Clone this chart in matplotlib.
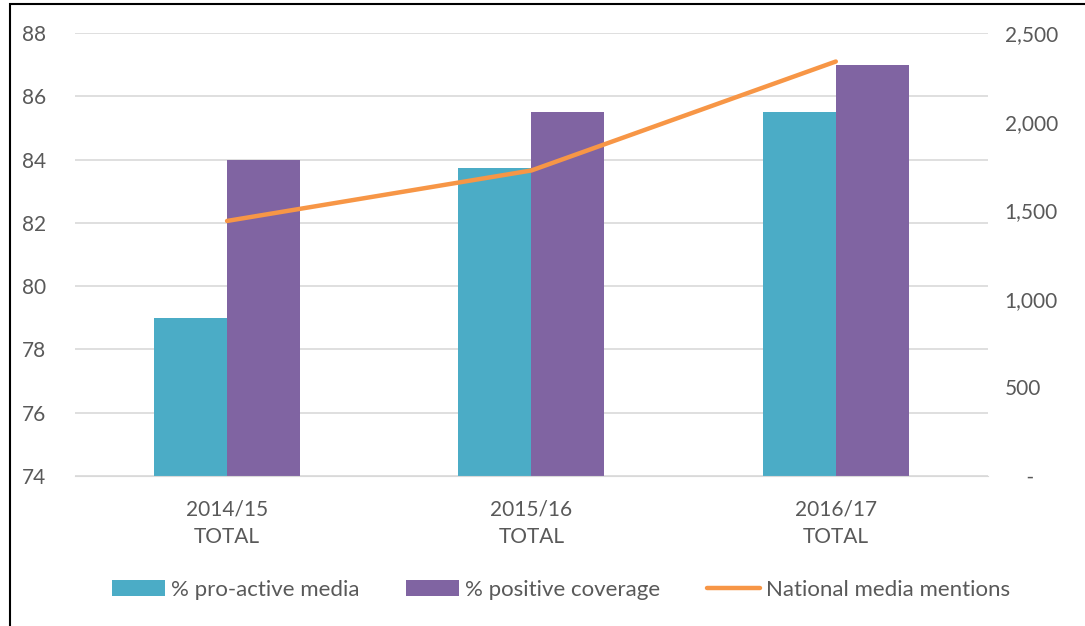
import numpy as np
import matplotlib.pyplot as plt
from matplotlib.patches import Rectangle
from matplotlib.ticker import FuncFormatter

plt.rcParams['font.family'] = ['Lato', 'DejaVu Sans']

categories = ["2014/15\nTOTAL", "2015/16\nTOTAL", "2016/17\nTOTAL"]
pro_active = [79.0, 83.73, 85.5]
positive = [84.0, 85.5, 87.0]
mentions = [1440, 1725, 2340]

teal = "#4BACC6"
purple = "#8064A2"
orange = "#F79646"
grey_txt = "#595959"

fig = plt.figure(figsize=(10.85, 6.26), dpi=100)
ax = fig.add_axes([0.069, 0.2396, 0.8416, 0.7074])
ax2 = ax.twinx()

x = np.arange(len(categories))
w = 0.24
b1 = ax.bar(x - w / 2, np.array(pro_active) - 74, w, bottom=74, color=teal, label="% pro-active media", zorder=2)
b2 = ax.bar(x + w / 2, np.array(positive) - 74, w, bottom=74, color=purple, label="% positive coverage", zorder=2)
ln, = ax2.plot(x, mentions, color=orange, lw=3.2, solid_capstyle='round', label="National media mentions")

ax.set_xlim(-0.5, 2.5)
ax.set_ylim(74, 88)
ax.set_yticks(range(74, 89, 2))
ax2.set_ylim(0, 2500)
ax2.set_yticks(range(0, 2501, 500))
ax2.yaxis.set_major_formatter(FuncFormatter(lambda v, p: "    -" if v == 0 else f"{int(v):,}"))

ax.yaxis.grid(True, color="#d9d9d9", lw=1.2, zorder=0)
ax.set_axisbelow(True)
for a in (ax, ax2):
    for s in a.spines.values():
        s.set_visible(False)
    a.tick_params(length=0, colors=grey_txt, labelsize=15)
ax.spines['bottom'].set_visible(True)
ax.spines['bottom'].set_color("#d9d9d9")
ax.tick_params(axis='y', pad=21)
ax2.tick_params(axis='y', pad=12)
ax.set_xticks(x)
ax.set_xticklabels(categories, linespacing=1.45)
ax.tick_params(axis='x', pad=17)

fig.legend(handles=[b1, b2, ln], loc='center', bbox_to_anchor=(0.517, 0.058), ncol=3,
           frameon=False, fontsize=16, labelcolor=grey_txt, handlelength=2.4, handleheight=0.75,
           columnspacing=2.1, handletextpad=0.25)

fig.patches.append(Rectangle((0.0095, -0.01), 1.0, 1.0037, transform=fig.transFigure,
                             fill=False, ec="black", lw=1.5))

fig.savefig("out.png", dpi=100)
